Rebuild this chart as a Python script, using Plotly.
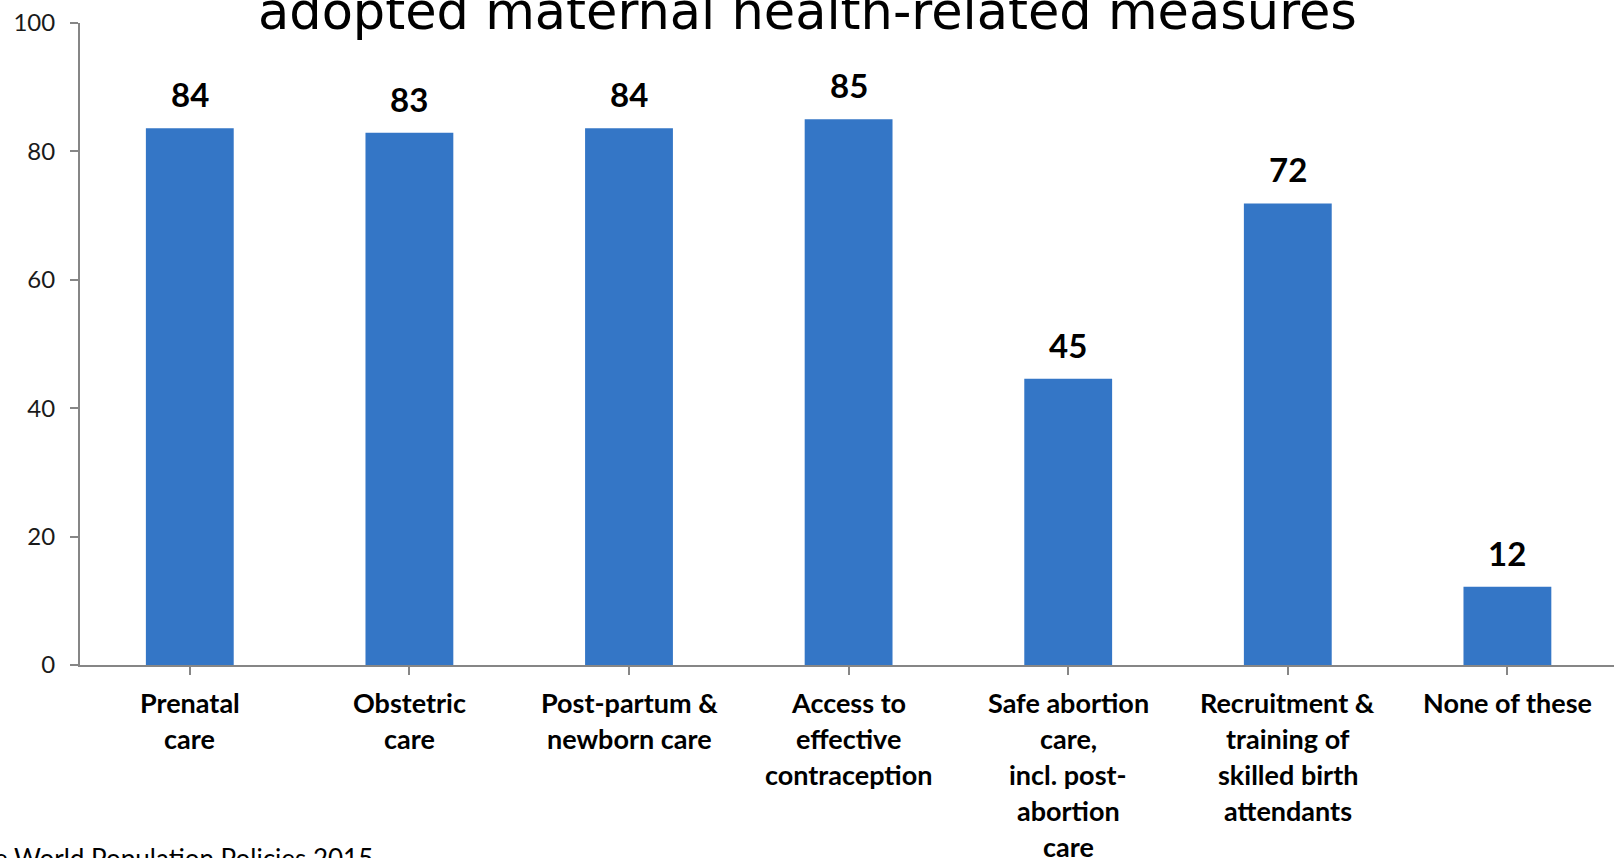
import plotly.graph_objects as go

categories = [
    "Prenatal<br>care",
    "Obstetric<br>care",
    "Post-partum &<br>newborn care",
    "Access to<br>effective<br>contraception",
    "Safe abortion<br>care,<br>incl. post-<br>abortion<br>care",
    "Recruitment &<br>training of<br>skilled birth<br>attendants",
    "None of these",
]
values = [83.6, 82.9, 83.6, 85.0, 44.6, 71.9, 12.2]
y_ticks = [0, 20, 40, 60, 80, 100]
title_text = "adopted maternal health-related measures"
source_text = "e World Population Policies 2015"

FONT = "Lato, 'Liberation Sans', sans-serif"
TITLE_FONT = "'DejaVu Sans', sans-serif"
BAR_COLOR = "#3476C6"
AXIS_COLOR = "#868686"

x_idx = list(range(len(categories)))

W, H = 1614, 858
ML, MR, MT, MB = 80, 0, 23, 193
pw, ph = W - ML - MR, H - MT - MB
CAT_PX = 219.6


def px_to_paper(px, py):
    return (px - ML) / pw, (H - MB - py) / ph


fig = go.Figure()
fig.add_trace(go.Bar(
    x=x_idx, y=values, marker=dict(color=BAR_COLOR, line=dict(width=0)),
    hoverinfo="skip", showlegend=False,
))

annotations = []
# value labels
for i, v in enumerate(values):
    annotations.append(dict(
        x=i, y=v, xref="x", yref="y", text=f"<b>{v:.0f}</b>", showarrow=False,
        yanchor="middle", xanchor="center", yshift=34,
        font=dict(family=FONT, size=33, color="#000000"),
    ))
# category labels, one annotation per line
for i, cat in enumerate(categories):
    for j, line in enumerate(cat.split("<br>")):
        annotations.append(dict(
            x=i, y=0, xref="x", yref="y", text=f"<b>{line}</b>", showarrow=False,
            yanchor="middle", xanchor="center", yshift=-(37 + 36 * j),
            font=dict(family=FONT, size=27, color="#000000"),
        ))
# title (partially cut at top)
tx, ty = px_to_paper(807, 11)
annotations.append(dict(
    x=tx, y=ty, xref="paper", yref="paper", text=title_text, showarrow=False,
    xanchor="center", yanchor="middle",
    font=dict(family=TITLE_FONT, size=51, color="#000000"),
))
# source (partially cut at bottom)
sx, sy = px_to_paper(-8, 858)
annotations.append(dict(
    x=sx, y=sy, xref="paper", yref="paper", text=source_text, showarrow=False,
    xanchor="left", yanchor="middle",
    font=dict(family=FONT, size=26, color="#000000"),
))

fig.update_layout(
    width=W, height=H,
    margin=dict(l=ML, r=MR, t=MT, b=MB, autoexpand=False),
    paper_bgcolor="white", plot_bgcolor="white",
    bargap=0.6,
    annotations=annotations,
    xaxis=dict(
        range=[-0.5, -0.5 + pw / CAT_PX], tickmode="array", tickvals=x_idx,
        showticklabels=False,
        tickson="boundaries", ticks="outside", ticklen=8, tickwidth=2, tickcolor=AXIS_COLOR,
        showline=True, linecolor=AXIS_COLOR, linewidth=2, showgrid=False, zeroline=False,
        fixedrange=True,
    ),
    yaxis=dict(
        range=[0, 100], tickmode="array", tickvals=y_ticks,
        ticks="outside", ticklen=8, tickwidth=2, tickcolor=AXIS_COLOR,
        showline=True, linecolor=AXIS_COLOR, linewidth=2, showgrid=False, zeroline=False,
        tickfont=dict(family=FONT, size=24, color="#1a1a1a"), ticklabelstandoff=10,
        fixedrange=True,
    ),
)
fig.write_html(
    "out.html",
    config={"displayModeBar": False},
    post_script="document.body.style.margin='0';document.body.style.overflow='hidden';",
)
